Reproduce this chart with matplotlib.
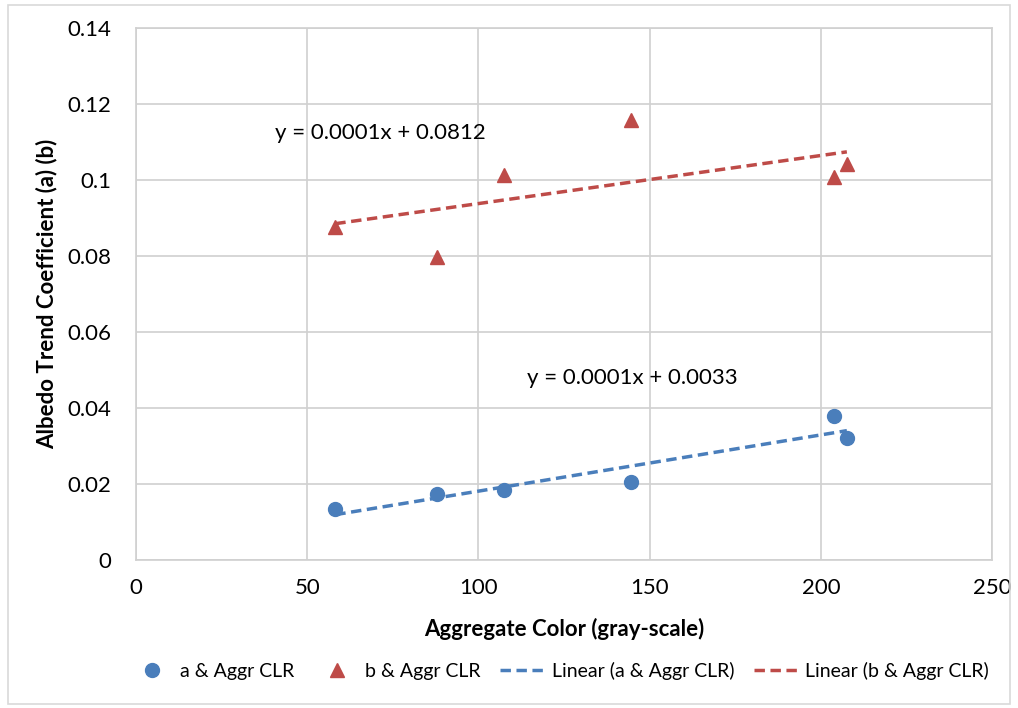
import numpy as np
import matplotlib
matplotlib.use("Agg")
import matplotlib.pyplot as plt
from matplotlib.patches import Rectangle

plt.rcParams['font.family'] = ['Lato', 'DejaVu Sans']

# Aggregate colour (gray-scale) for each mix
aggr_clr = [58.2, 88.0, 107.6, 144.6, 203.9, 207.6]
# Albedo trend coefficients
coef_a = [0.0134, 0.0174, 0.0183, 0.0205, 0.0380, 0.0322]
coef_b = [0.0875, 0.0797, 0.1012, 0.1158, 0.1009, 0.1042]

series_labels = ["a & Aggr CLR", "b & Aggr CLR"]
fit_labels = ["Linear (a & Aggr CLR)", "Linear (b & Aggr CLR)"]
eq_a = "y = 0.0001x + 0.0033"
eq_b = "y = 0.0001x + 0.0812"

blue = "#4a7ebb"
red = "#be4b48"
grid = "#d0d0d0"

fig = plt.figure(figsize=(10.18, 7.08), dpi=100)
fig.patches.append(Rectangle((0.008, 0.006), 0.984, 0.987, transform=fig.transFigure,
                             fill=False, edgecolor="#d9d9d9", linewidth=1.2))
ax = fig.add_axes([0.1336, 0.209, 0.8409, 0.7515])

x = np.array(aggr_clr)
ha, = ax.plot(x, coef_a, 'o', color=blue, markersize=10, zorder=4, label=series_labels[0])
hb, = ax.plot(x, coef_b, '^', color=red, markersize=10, zorder=4, label=series_labels[1])

xs = np.array([x.min(), x.max()])
pa = np.polyfit(x, coef_a, 1)
pb = np.polyfit(x, coef_b, 1)
la, = ax.plot(xs, np.polyval(pa, xs), '--', color=blue, linewidth=2.5, dashes=(3, 1.6), zorder=3, label=fit_labels[0])
lb, = ax.plot(xs, np.polyval(pb, xs), '--', color=red, linewidth=2.5, dashes=(3, 1.6), zorder=3, label=fit_labels[1])

ax.text(40.5, 0.1123, eq_b, fontsize=16, ha='left', va='center', zorder=5)
ax.text(114.3, 0.0478, eq_a, fontsize=16, ha='left', va='center', zorder=5)

ax.set_xlim(0, 250)
ax.set_ylim(0, 0.14)
ax.set_xticks(np.arange(0, 251, 50))
ax.set_yticks(np.arange(0, 0.141, 0.02))
ax.set_yticklabels(["0", "0.02", "0.04", "0.06", "0.08", "0.1", "0.12", "0.14"])
ax.grid(True, color=grid, linewidth=1.2)
ax.set_axisbelow(True)
for s in ax.spines.values():
    s.set_color(grid)
    s.set_linewidth(1.2)
ax.tick_params(length=0, labelsize=16)
ax.tick_params(axis='x', pad=13)
ax.tick_params(axis='y', pad=18)

ax.set_xlabel("Aggregate Color (gray-scale)", fontsize=16, fontweight='bold', labelpad=14)
ax.set_ylabel("Albedo Trend Coefficient (a) (b)", fontsize=16, fontweight='bold', labelpad=7)

fig.legend(handles=[ha, hb, la, lb], loc='center', bbox_to_anchor=(0.549, 0.053), ncol=4,
           frameon=False, fontsize=14, handlelength=2.4, columnspacing=1.0, handletextpad=0.25)

fig.savefig("out.png", dpi=100)
